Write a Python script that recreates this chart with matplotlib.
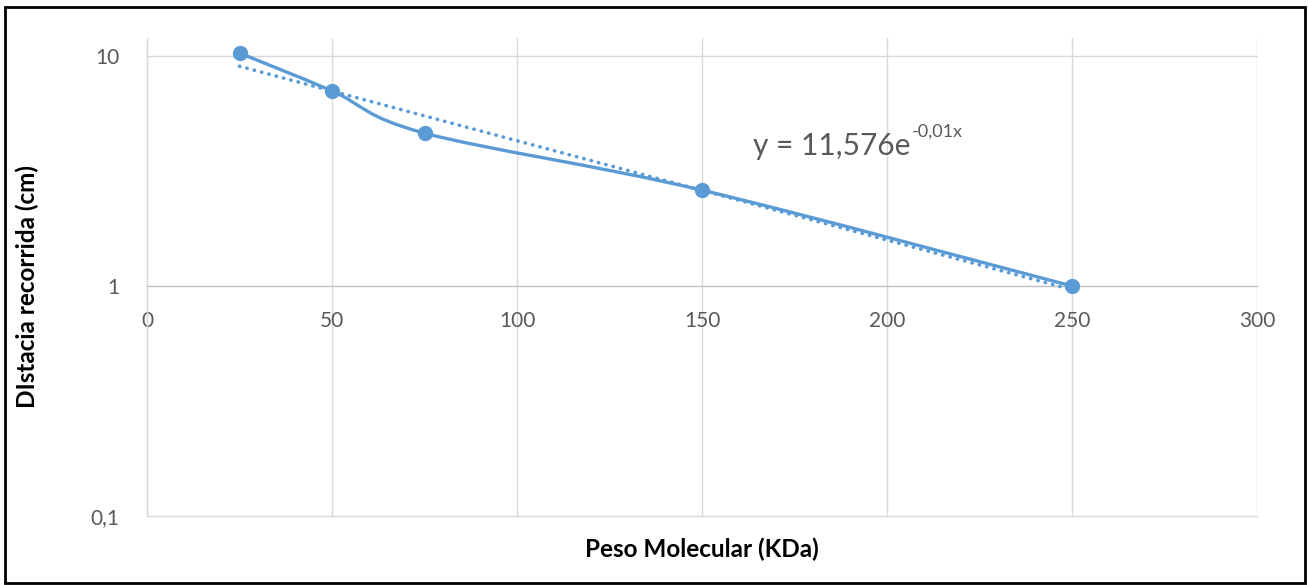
import numpy as np
import matplotlib
matplotlib.use("Agg")
import matplotlib.pyplot as plt
from matplotlib.path import Path
from matplotlib.patches import PathPatch, Rectangle
from matplotlib.transforms import IdentityTransform

plt.rcParams['font.family'] = ['Lato', 'DejaVu Sans']

# datos
peso_kda = [25, 50, 75, 150, 250]
distancia_cm = [10.3, 7.05, 4.62, 2.61, 1.0]
x_ticks = [0, 50, 100, 150, 200, 250, 300]
y_ticks = [0.1, 1, 10]
y_tick_labels = ['0,1', '1', '10']
ecuacion = 'y = 11,576e'
exponente = '-0,01x'

azul = '#5B9BD5'
gris_txt = '#595959'
gris_grid = '#D9D9D9'

fig = plt.figure(figsize=(13.09, 5.85), dpi=100)
ax = fig.add_axes([147/1309, 1-516/585, (1257-147)/1309, (516-38)/585])

ax.set_yscale('log')
ax.set_xlim(0, 300)
ax.set_ylim(0.1, 10**(1 + 18/230))
ax.set_xticks(x_ticks)
ax.set_xticklabels([str(t) for t in x_ticks])
ax.set_yticks(y_ticks)
ax.set_yticklabels(y_tick_labels)
ax.minorticks_off()
ax.tick_params(length=0, labelsize=15, colors=gris_txt, pad=18)
ax.tick_params(axis='y', pad=20)
ax.grid(True, color=gris_grid, lw=1.0)
for g in ax.get_ygridlines():
    g.set_clip_on(False)
for s in ['top', 'right']:
    ax.spines[s].set_visible(False)
ax.spines['bottom'].set_position(('data', 1))
ax.spines['bottom'].set_color('#BFBFBF')
ax.spines['left'].set_color(gris_grid)
ax.spines['left'].set_linewidth(1.0)

# linea de tendencia exponencial (ajuste por minimos cuadrados sobre log)
b, a = np.polyfit(peso_kda, np.log(distancia_cm), 1)
xt = np.linspace(peso_kda[0], peso_kda[-1], 200)
ax.plot(xt, np.exp(a) * np.exp(b * xt), color=azul, lw=2.6,
        linestyle=(0, (0.1, 2.0)), dash_capstyle='round', zorder=3)

# linea suavizada tipo Excel (bezier en coordenadas de pantalla)
fig.canvas.draw()
pts = ax.transData.transform(np.column_stack([peso_kda, distancia_cm]))
verts = [pts[0]]
codes = [Path.MOVETO]
n = len(pts)
for i in range(n - 1):
    p0 = pts[max(i - 1, 0)]
    p1 = pts[i]
    p2 = pts[i + 1]
    p3 = pts[min(i + 2, n - 1)]
    c1 = p1 + (p2 - p0) / 6
    c2 = p2 - (p3 - p1) / 6
    verts += [c1, c2, p2]
    codes += [Path.CURVE4] * 3
ax.add_patch(PathPatch(Path(verts, codes), facecolor='none', edgecolor=azul,
                       lw=2.4, transform=IdentityTransform(), zorder=4))
ax.plot(peso_kda, distancia_cm, 'o', color=azul, ms=10, zorder=5)

ax.set_xlabel('Peso Molecular (KDa)', fontsize=17.5, fontweight='bold')
ax.xaxis.set_label_coords(0.5, -0.045)
ax.set_ylabel('DIstacia recorrida (cm)', fontsize=17.5, fontweight='bold')
ax.yaxis.set_label_coords(-0.097, 0.48)

t = fig.text(753/1309, 1-155/585, ecuacion, fontsize=21.5, color=gris_txt)
fig.canvas.draw()
bb = t.get_window_extent()
fig.text(bb.x1/1309 + 0.001, 1-137/585, exponente, fontsize=13, color=gris_txt)

fig.patches.append(Rectangle((5/1309, 2/585), 1300/1309, 576/585, transform=fig.transFigure,
                             fill=False, edgecolor='black', lw=2))

fig.savefig('out.png', dpi=100)
